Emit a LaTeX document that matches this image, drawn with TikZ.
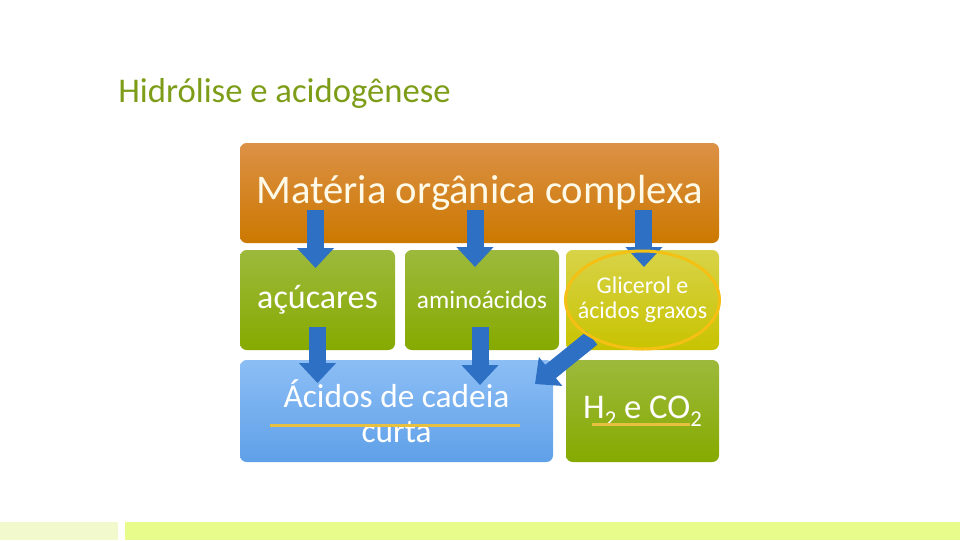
\documentclass[tikz,border=0pt]{standalone}
\usepackage{fontspec}
\setmainfont{Carlito}
\usepackage{tikz}
\usetikzlibrary{positioning, arrows.meta}
\definecolor{laranjaA}{RGB}{220,145,70}
\definecolor{laranjaB}{RGB}{204,120,0}
\definecolor{verdeA}{RGB}{157,185,60}
\definecolor{verdeB}{RGB}{134,170,0}
\definecolor{amareloA}{RGB}{216,211,72}
\definecolor{amareloB}{RGB}{200,195,0}
\definecolor{azulA}{RGB}{140,190,245}
\definecolor{azulB}{RGB}{95,160,232}
\definecolor{azulseta}{RGB}{46,112,196}
\definecolor{ouro}{RGB}{232,192,64}
\definecolor{anel}{RGB}{245,192,20}
\definecolor{oliva}{RGB}{125,157,24}
\definecolor{creme}{RGB}{255,250,232}
\tikzset{
	caixa/.style={rounded corners=5pt, inner sep=0pt, outer sep=0pt, minimum height=75pt, align=center, text=white}, % Caja base
	laranja/.style={top color=laranjaA, bottom color=laranjaB}, % Caja superior
	verde/.style={top color=verdeA, bottom color=verdeB}, % Cajas verdes
	amarelo/.style={top color=amareloA, bottom color=amareloB}, % Caja amarilla
	azul/.style={top color=azulA, bottom color=azulB}, % Caja azul
	seta/.style={azulseta, line width=12.75pt, -{Triangle[length=15pt, width=27pt]}}, % Flechas gruesas
	risco/.style={ouro, line width=2.25pt} % Lineas amarillas
}
\newcommand{\indice}[1]{\raisebox{-0.5ex}{\fontsize{17}{17}\selectfont #1}}

\begin{document}
\begin{tikzpicture}[x=0.75pt, y=-0.75pt]
			\useasboundingbox (0,0) rectangle (960,540);
			\fill[fill={rgb,255:red,242;green,250;blue,205}] (0,522) rectangle (118,540);
			\fill[fill={rgb,255:red,232;green,252;blue,140}] (125,522) rectangle (960,540);
			\node[anchor=base west, inner sep=0pt, text=oliva, font=\fontsize{26}{30}\selectfont] (tit) at (118,102) {Hidrólise e acidogênese};
			\node[caixa, laranja, anchor=north west, minimum width=359.25pt, text=creme, font=\fontsize{30.5}{34}\selectfont] (mat) at (240,143) {\raisebox{1pt}{Matéria orgânica complexa}};
			\node[caixa, verde, below right=5.25pt and 0pt of mat.south west, minimum width=116.25pt, font=\fontsize{25.5}{28}\selectfont] (acu) {\raisebox{-2pt}{açúcares}};
			\node[caixa, verde, below right=0pt and 7.5pt of acu.north east, minimum width=115.5pt, font=\fontsize{19}{21}\selectfont] (ami) {aminoácidos};
			\node[caixa, amarelo, below right=0pt and 5.25pt of ami.north east, minimum width=114.75pt, font=\fontsize{18}{19}\selectfont] (glic) {\raisebox{-2pt}{\parbox{110pt}{\centering Glicerol e\\ácidos graxos}}};
			\node[caixa, azul, below right=7.5pt and 0pt of acu.south west, minimum width=234.75pt, minimum height=76.5pt, font=\fontsize{25}{26}\selectfont] (aci) {Ácidos de cadeia\\curta};
			\node[caixa, verde, below right=7.5pt and 0pt of glic.south west, minimum width=114.75pt, minimum height=76.5pt, font=\fontsize{26}{28}\selectfont] (h2) {H\indice{2} e CO\indice{2}};
			\draw[seta] ([xshift=-1.5pt, yshift=30pt]acu.north) -- ([xshift=-1.5pt, yshift=-13.5pt]acu.north);
			\draw[seta] ([xshift=-5.25pt, yshift=30pt]ami.north) -- ([xshift=-5.25pt, yshift=-12.75pt]ami.north);
			\draw[seta] ([xshift=1.1pt, yshift=30pt]glic.north) -- ([xshift=1.1pt, yshift=-12.75pt]glic.north);
			\draw[seta] ([yshift=17.25pt]acu.south) -- ([yshift=-24.75pt]acu.south);
			\draw[seta] ([xshift=-1.5pt, yshift=17.25pt]ami.south) -- ([xshift=-1.5pt, yshift=-26.25pt]ami.south);
			\draw[seta] ([xshift=19.5pt, yshift=9pt]glic.south west) -- ([xshift=-13.5pt, yshift=-18pt]aci.north east);
			\draw[anel, line width=2.25pt] (glic.center) ellipse [x radius=57.75pt, y radius=36.75pt];
			\draw[risco] (270,425) -- (520,425);
			\draw[risco] (592,424) -- (690,424);
			\end{tikzpicture}
\end{document}
